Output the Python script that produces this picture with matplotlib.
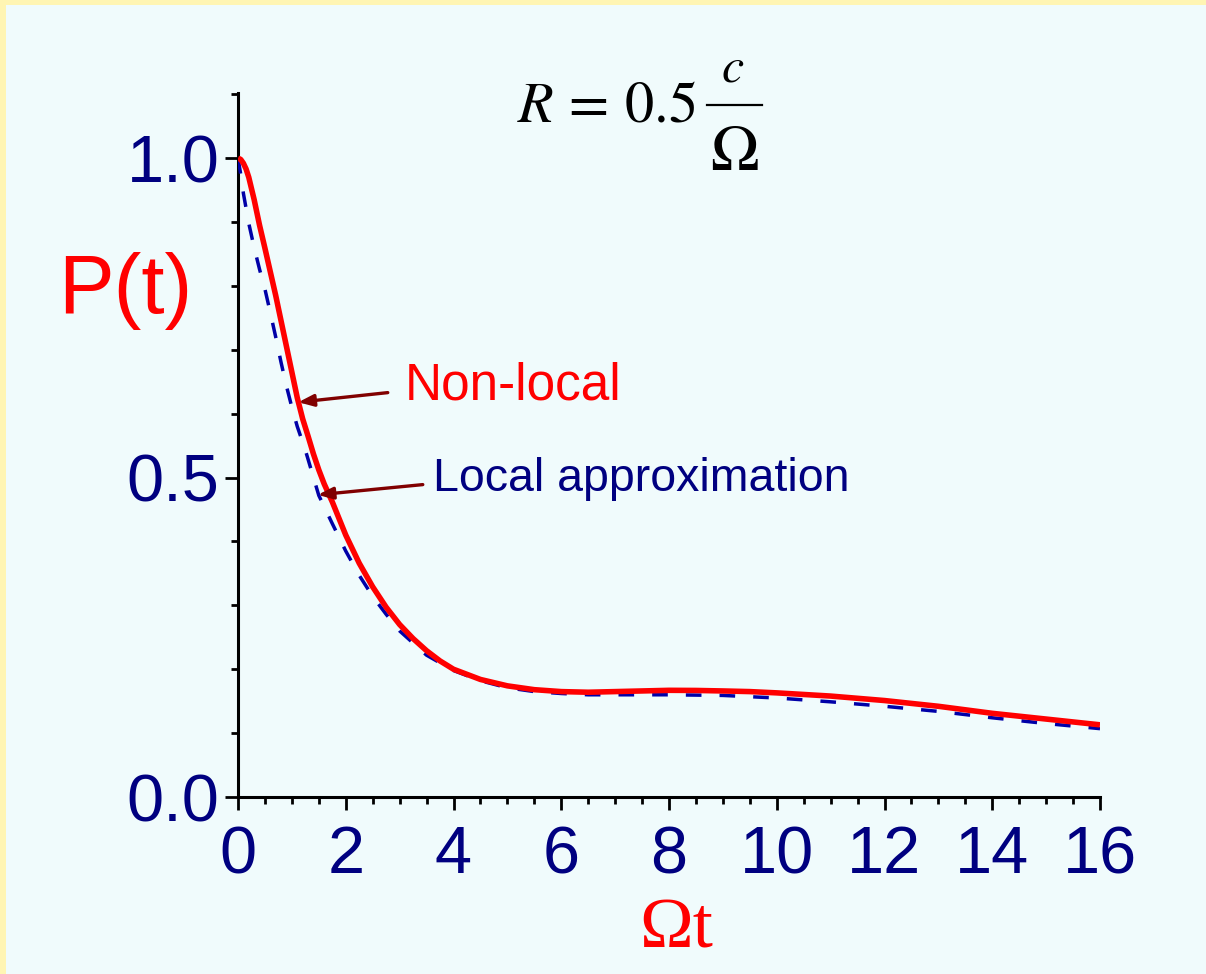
import numpy as np
import matplotlib.pyplot as plt
from matplotlib.patches import Rectangle
from matplotlib.lines import Line2D
from matplotlib.ticker import MultipleLocator

# P(t), non-local result (solid red)
t_red = [0, 0.05, 0.1, 0.15, 0.2, 0.3, 0.4, 0.5, 0.6, 0.7, 0.8, 0.9, 1.0, 1.1, 1.2, 1.3, 1.4,
         1.5, 1.6, 1.75, 2.0, 2.25, 2.5, 2.75, 3.0, 3.25, 3.5, 3.75, 4.0, 4.5, 5.0,
         5.5, 6.0, 6.5, 7.0, 7.5, 8.0, 8.5, 9.0, 9.5, 10, 11, 12, 13, 14, 15, 16]
p_red = [1.000, 0.998, 0.992, 0.983, 0.970, 0.935, 0.895, 0.859, 0.822, 0.785, 0.745, 0.705, 0.665,
         0.625, 0.592, 0.565, 0.537, 0.512, 0.490, 0.462, 0.410, 0.366, 0.329, 0.297,
         0.270, 0.248, 0.229, 0.213, 0.200, 0.184, 0.174, 0.168, 0.165, 0.164, 0.165,
         0.166, 0.167, 0.1668, 0.166, 0.165, 0.163, 0.158, 0.151, 0.142, 0.131, 0.122, 0.113]

# local approximation (dashed blue)
t_blue = [0, 0.05, 0.1, 0.2, 0.3, 0.4, 0.5, 0.6, 0.7, 0.8, 0.9, 1.0, 1.1, 1.25, 1.5,
          1.75, 2.0, 2.25, 2.5, 2.75, 3.0, 3.5, 4.0, 4.5, 5.0, 5.5, 6.0, 6.5, 7.0,
          8.0, 9.0, 10, 11, 12, 13, 14, 15, 16]
p_blue = [1.000, 0.975, 0.945, 0.898, 0.860, 0.826, 0.795, 0.758, 0.720, 0.680, 0.643,
          0.610, 0.580, 0.543, 0.472, 0.428, 0.385, 0.347, 0.314, 0.286, 0.260, 0.222,
          0.198, 0.182, 0.171, 0.165, 0.162, 0.160, 0.160, 0.160, 0.159, 0.155, 0.149,
          0.142, 0.134, 0.124, 0.115, 0.107]

xticks = [0, 2, 4, 6, 8, 10, 12, 14, 16]
yticks = [0.0, 0.5, 1.0]
ytick_labels = ["0.0", "0.5", "1.0"]

navy = "#000080"
yellow = "#fff5b3"
cyan = "#f0fbfc"

plt.rcParams["mathtext.fontset"] = "stix"

W, H = 1206, 974
fig = plt.figure(figsize=(W / 100, H / 100), dpi=100, facecolor=yellow)
fig.patches.append(Rectangle((6 / W, 0), 1, 1 - 5 / H, transform=fig.transFigure,
                             facecolor=cyan, edgecolor="none", zorder=-10))

ax = fig.add_axes([238 / W, 1 - 797 / H, (1100 - 238) / W, (797 - 93) / H])
ax.set_facecolor("none")

ax.plot(t_blue, p_blue, color="#0000a8", lw=2.5, dashes=(4.5, 5.2), zorder=3)
ax.plot(t_red, p_red, color="#ff0000", lw=4, zorder=4, solid_capstyle="butt",
        solid_joinstyle="round")

ax.set_xlim(0, 16)

for s in ["top", "right"]:
    ax.spines[s].set_visible(False)
for s in ["left", "bottom"]:
    ax.spines[s].set_linewidth(2.2)
    ax.spines[s].set_color("black")

ax.set_xticks(xticks)
ax.set_xticklabels([str(v) for v in xticks])
ax.xaxis.set_minor_locator(MultipleLocator(0.5))
ax.set_yticks(yticks)
ax.set_yticklabels(ytick_labels)
ax.set_yticks(np.arange(0, 1.15, 0.1), minor=True)
ax.set_ylim(0, 1.102)

ax.tick_params(which="major", length=9.5, width=2, direction="out")
ax.tick_params(which="minor", length=5, width=2, direction="out")
ax.tick_params(axis="x", which="major", pad=11)
ax.tick_params(axis="y", which="major", pad=4)
for lab in ax.get_xticklabels() + ax.get_yticklabels():
    lab.set_fontfamily("Liberation Sans")
    lab.set_fontsize(48)
    lab.set_color(navy)

# arrows and labels
arr = dict(arrowstyle="-|>,head_length=0.9,head_width=0.35", color="#800000", lw=2.4,
           shrinkA=0, shrinkB=0)
ax.annotate("", xy=(1.12, 0.618), xytext=(2.78, 0.633), arrowprops=arr, zorder=6)
ax.annotate("", xy=(1.48, 0.473), xytext=(3.43, 0.489), arrowprops=arr, zorder=6)
ax.text(3.1, 0.644, "Non-local", color="red", fontsize=37, family="Liberation Sans",
        va="center", ha="left")
ax.text(3.62, 0.497, "Local approximation", color=navy, fontsize=33.5,
        family="Liberation Sans", va="center", ha="left")

# R = 0.5 c / Omega, built as in the original slide
fig.text(517 / W, 1 - 122 / H, r"$R\,=\,0.5$", fontsize=42, color="black",
         ha="left", va="baseline")
fig.text(733 / W, 1 - 82 / H, r"$c$", fontsize=36, color="black",
         ha="center", va="baseline")
fig.text(734 / W, 1 - 170 / H, r"$\Omega$", fontsize=47, color="black",
         ha="center", va="baseline")
fig.lines.append(Line2D([707 / W, 762 / W], [1 - 105 / H, 1 - 105 / H],
                        transform=fig.transFigure, color="black", lw=1.6))

fig.text(125 / W, 1 - 313 / H, "P(t)", color="red", fontsize=60,
         family="Liberation Sans", ha="center", va="baseline")
fig.text(676 / W, 1 - 948 / H, "Ωt", color="red", fontsize=52,
         family="Liberation Serif", ha="center", va="baseline")

plt.savefig("out.png", dpi=100, facecolor=yellow)
